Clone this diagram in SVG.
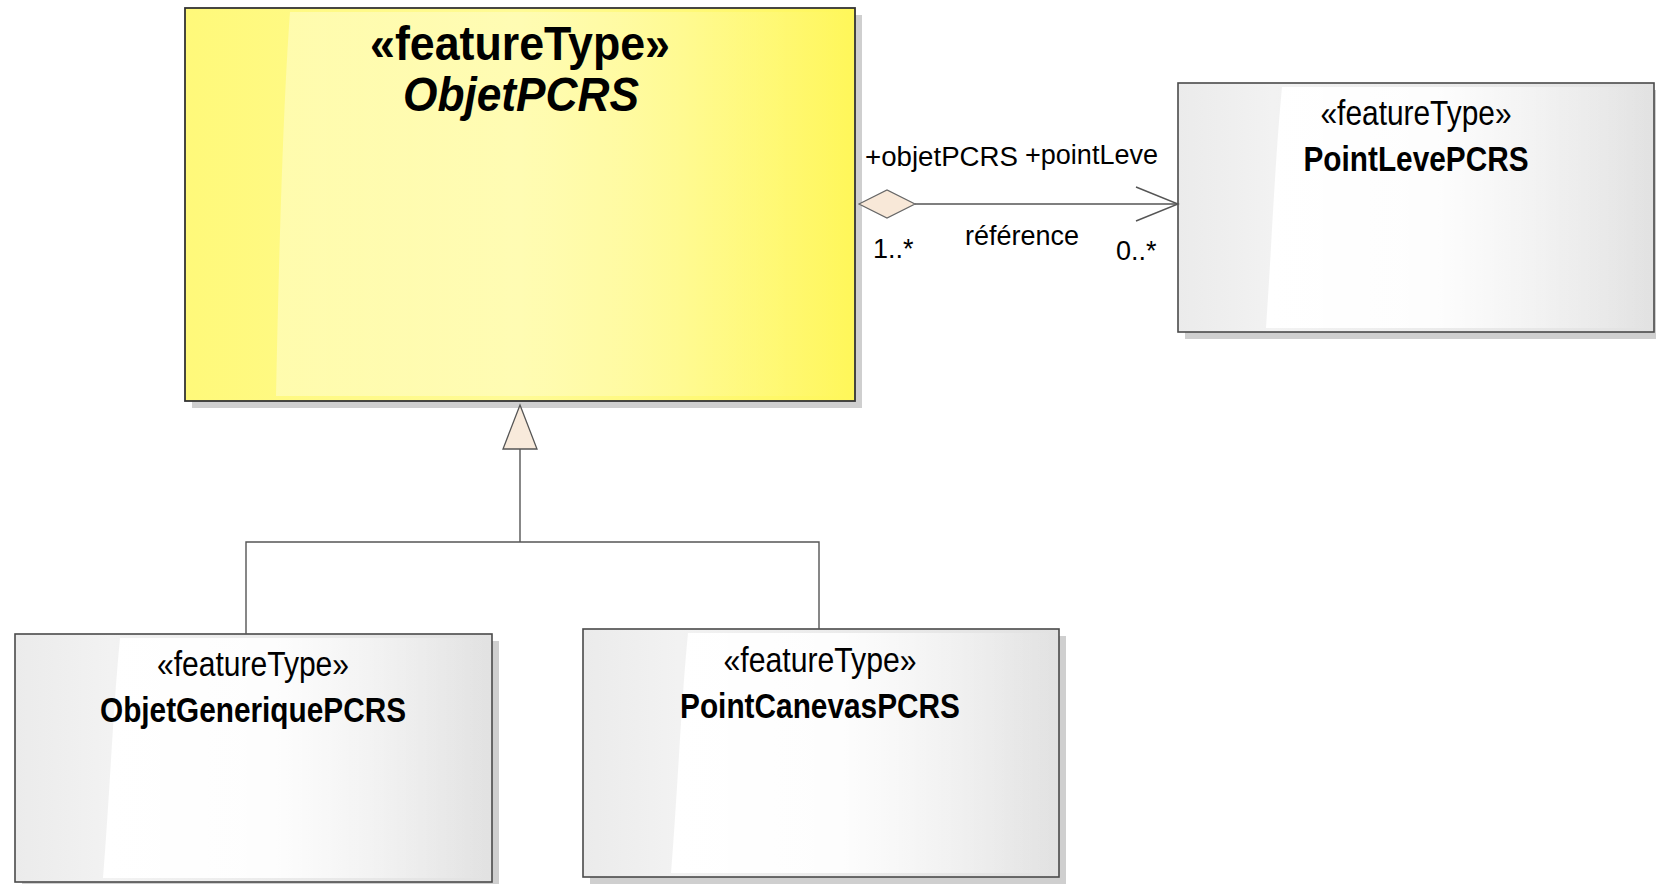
<svg xmlns="http://www.w3.org/2000/svg" width="1656" height="884" viewBox="0 0 1656 884">
<defs>
<style>
.box{stroke:#4a4a4a;stroke-width:1.6}
.ybox{stroke:#333;stroke-width:1.8}
.shadow{fill:#cfcfcf}
.conn{fill:none;stroke:#555;stroke-width:1.4}
.t{font-family:"Liberation Sans",Arial,sans-serif;fill:#000}
.st{font-size:35px;text-anchor:middle}
.nm{font-size:35px;font-weight:bold;text-anchor:middle}
.yst{font-size:48px;font-weight:bold;text-anchor:middle}
.ynm{font-size:48px;font-weight:bold;font-style:italic;text-anchor:middle}
.lbl{font-size:27px}
</style>
<linearGradient id="gw" x1="0" y1="0" x2="1" y2="0">
<stop offset="0" stop-color="#ebebeb"/>
<stop offset="0.2" stop-color="#f2f2f2"/>
<stop offset="1" stop-color="#e2e2e2"/>
</linearGradient>
<linearGradient id="gwo" x1="0" y1="0" x2="1" y2="0">
<stop offset="0" stop-color="#ffffff" stop-opacity="1"/>
<stop offset="0.45" stop-color="#ffffff" stop-opacity="0.9"/>
<stop offset="1" stop-color="#ffffff" stop-opacity="0"/>
</linearGradient>
<linearGradient id="gy" x1="0" y1="0" x2="1" y2="0">
<stop offset="0" stop-color="#fff97a"/>
<stop offset="0.5" stop-color="#fffb96"/>
<stop offset="1" stop-color="#fff75a"/>
</linearGradient>
<linearGradient id="gyo" x1="0" y1="0" x2="1" y2="0">
<stop offset="0" stop-color="#ffffff" stop-opacity="0.35"/>
<stop offset="0.6" stop-color="#ffffff" stop-opacity="0.25"/>
<stop offset="1" stop-color="#ffffff" stop-opacity="0"/>
</linearGradient>
</defs>
<rect width="1656" height="884" fill="#ffffff"/>

<g id="ObjetPCRS">
<rect class="shadow" x="192" y="15" width="670" height="393"/>
<rect class="ybox" x="185" y="8" width="670" height="393" fill="url(#gy)"/>
<path d="M290,12 C282,120 278,300 276,396 L848,396 L848,12 Z" fill="url(#gyo)"/>
<text class="t yst" x="520" y="60" textLength="300" lengthAdjust="spacingAndGlyphs">«featureType»</text>
<text class="t ynm" x="521" y="111" textLength="236" lengthAdjust="spacingAndGlyphs">ObjetPCRS</text>
</g>

<g id="PointLevePCRS">
<rect class="shadow" x="1185" y="90" width="471" height="249"/>
<rect class="box" x="1178" y="83" width="476" height="249" fill="url(#gw)"/>
<path d="M1282,87 C1275,160 1272,240 1266,328 L1648,328 L1648,87 Z" fill="url(#gwo)"/>
<text class="t st" x="1416" y="125" textLength="191" lengthAdjust="spacingAndGlyphs">«featureType»</text>
<text class="t nm" x="1416" y="171" textLength="225" lengthAdjust="spacingAndGlyphs">PointLevePCRS</text>
</g>

<g id="ObjetGeneriquePCRS">
<rect class="shadow" x="22" y="641" width="477" height="243"/>
<rect class="box" x="15" y="634" width="477" height="248" fill="url(#gw)"/>
<path d="M120,638 C113,710 110,790 103,878 L486,878 L486,638 Z" fill="url(#gwo)"/>
<text class="t st" x="253" y="676" textLength="192" lengthAdjust="spacingAndGlyphs">«featureType»</text>
<text class="t nm" x="253" y="722" textLength="306" lengthAdjust="spacingAndGlyphs">ObjetGeneriquePCRS</text>
</g>

<g id="PointCanevasPCRS">
<rect class="shadow" x="590" y="636" width="476" height="248"/>
<rect class="box" x="583" y="629" width="476" height="248" fill="url(#gw)"/>
<path d="M688,633 C681,705 678,785 671,873 L1053,873 L1053,633 Z" fill="url(#gwo)"/>
<text class="t st" x="820" y="672" textLength="193" lengthAdjust="spacingAndGlyphs">«featureType»</text>
<text class="t nm" x="820" y="718" textLength="280" lengthAdjust="spacingAndGlyphs">PointCanevasPCRS</text>
</g>

<g id="connectors">
<line class="conn" x1="915" y1="204" x2="1178" y2="204"/>
<polygon points="859,204 887,190 915,204 887,218" fill="#f8e8d8" stroke="#666" stroke-width="1.2"/>
<polyline class="conn" points="1136,187 1178,204 1136,221"/>
<polyline class="conn" points="246,634 246,542 819,542 819,629"/>
<line class="conn" x1="520" y1="542" x2="520" y2="449"/>
<polygon points="520,405 537,449 503,449" fill="#f8eadb" stroke="#555" stroke-width="1.3"/>
<text class="t lbl" x="865" y="166" textLength="153" lengthAdjust="spacingAndGlyphs">+objetPCRS</text>
<text class="t lbl" x="1025" y="164" textLength="133" lengthAdjust="spacingAndGlyphs">+pointLeve</text>
<text class="t lbl" x="1022" y="245" text-anchor="middle">référence</text>
<text class="t lbl" x="873" y="258">1..*</text>
<text class="t lbl" x="1116" y="260">0..*</text>
</g>
</svg>
